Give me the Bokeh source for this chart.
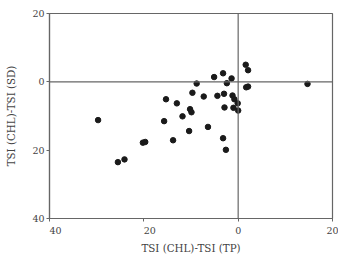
from bokeh.plotting import figure
from bokeh.models import ColumnDataSource, FixedTicker, Span, Range1d
from bokeh.embed import file_html
from bokeh.resources import INLINE

# TSI (CHL)-TSI (TP)
tp_diff = [-29.7, -25.5, -24.1, -20.2, -19.7, -15.7, -15.3, -13.8, -13.0, -11.8,
           -10.4, -10.2, -9.9, -9.7, -8.8, -7.3, -6.4, -5.1, -4.4, -3.2,
           -3.0, -2.9, -3.2, -2.6, -2.4, -1.4, -1.2, -1.0, -0.8, -0.1,
           0.0, 1.6, 2.1, 1.7, 2.1, 14.7]
# TSI (CHL)-TSI (SD)
sd_diff = [-11.2, -23.5, -22.7, -17.8, -17.6, -11.5, -5.1, -17.1, -6.3, -10.1,
           -14.4, -8.0, -8.9, -3.2, -0.5, -4.3, -13.2, 1.4, -4.1, 2.5,
           -3.5, -7.5, -16.5, -19.9, -0.4, 1.0, -4.0, -7.6, -5.1, -6.3,
           -8.4, 5.0, 3.4, -1.6, -1.4, -0.6]

ticks = [-40, -20, 0, 20]
x_tick_labels = ["\u2007\u200740", "\u2007\u200720", "0", "\u2007\u200720"]
y_tick_labels = ["40", "20", "0", "20"]
x_label = "TSI (CHL)-TSI (TP)"
y_label = "TSI (CHL)-TSI (SD)"

src = ColumnDataSource(dict(x=tp_diff, y=sd_diff))

p = figure(width=338, height=257, output_backend="svg", toolbar_location=None,
           x_range=Range1d(-40, 20), y_range=Range1d(-40, 20),
           min_border_left=49, min_border_right=6, min_border_top=13, min_border_bottom=39)

p.scatter("x", "y", source=src, size=5.5, fill_color="#1a1a1a", line_color="#1a1a1a")

for dim, loc in (("height", 0), ("width", 0)):
    p.add_layout(Span(location=loc, dimension=dim, line_color="#666666", line_width=1.2))

p.xgrid.visible = False
p.ygrid.visible = False
p.outline_line_color = "#666666"
p.outline_line_width = 1.2

font = "DejaVu Serif"
for ax, labels in ((p.xaxis[0], x_tick_labels), (p.yaxis[0], y_tick_labels)):
    ax.ticker = FixedTicker(ticks=ticks)
    ax.major_label_overrides = {t: l for t, l in zip(ticks, labels)}
    ax.minor_tick_line_color = None
    ax.major_tick_in = 0
    ax.major_tick_out = 3
    ax.axis_line_color = "#666666"
    ax.axis_line_width = 1.2
    ax.major_tick_line_color = "#666666"
    ax.major_label_text_font = font
    ax.major_label_text_font_size = "9.5px"
    ax.major_label_text_color = "#444444"
    ax.axis_label_text_font = font
    ax.axis_label_text_font_style = "normal"
    ax.axis_label_text_font_size = "10.3px"
    ax.axis_label_text_color = "#444444"

p.xaxis.axis_label = x_label
p.yaxis.axis_label = y_label
p.xaxis.major_label_standoff = 3
p.yaxis.major_label_standoff = 2
p.xaxis.axis_label_standoff = 3
p.yaxis.axis_label_standoff = 12

open("out.html", "w").write(file_html(p, INLINE))
